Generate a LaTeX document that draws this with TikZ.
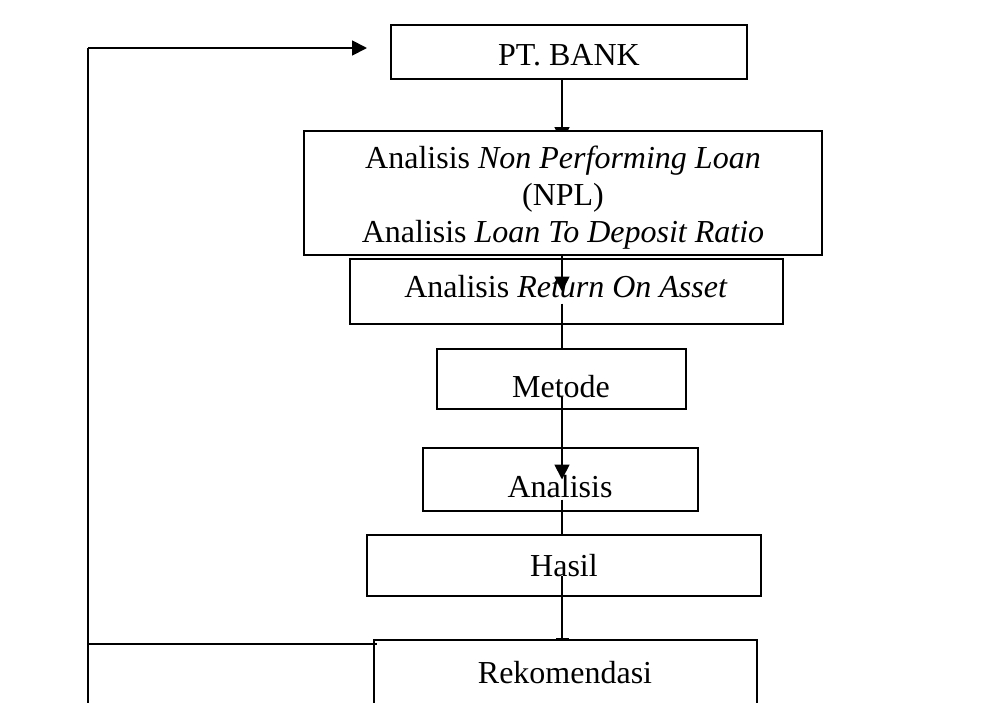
\documentclass[tikz,border=0pt]{standalone}
\usepackage{fontspec}
\setmainfont{Liberation Serif}
\usetikzlibrary{positioning, arrows.meta, backgrounds}
\tikzstyle{stage} = [rectangle, draw=black, line width=2pt, fill=white, inner sep=0pt, outer sep=0pt, align=center, text centered, font=\fontsize{32}{37}\selectfont]
\tikzstyle{arrow} = [line width=1.8pt, -{Triangle[length=15pt, width=15pt]}]
\tikzstyle{link} = [line width=1.8pt]
\tikzstyle{thinlink} = [line width=1.2pt]

\begin{document}
\begin{tikzpicture}[x=1pt, y=1pt]
    \useasboundingbox (0,0) rectangle (982,-702);
    \coordinate (spine) at (562,0);

    % Objek penelitian
    \node (bank) [stage, minimum width=356pt, minimum height=54pt] at (569,-52) {\rule{0pt}{27pt}PT. BANK};

    % Analisis rasio
    \node (npl) [stage, below=52pt of bank, xshift=-6pt, minimum width=518pt, minimum height=124pt] {\rule{0pt}{32pt}Analisis \textit{Non Performing Loan}\\(NPL)\\Analisis \textit{Loan To Deposit Ratio}};
    \node (roa) [stage, below=4pt of npl, xshift=3pt, minimum width=433pt, minimum height=65pt] {\rule[-10pt]{0pt}{10pt}Analisis \textit{Return On Asset}};

    % Tahapan
    \node (metode) [stage, below=25pt of roa, xshift=-5pt, minimum width=249pt, minimum height=60pt] {\rule{0pt}{38pt}Metode};
    \node (analisis) [stage, below=39pt of metode, xshift=-1pt, minimum width=275pt, minimum height=63pt] {\rule{0pt}{36pt}Analisis};
    \node (hasil) [stage, below=24pt of analisis, xshift=4pt, minimum width=394pt, minimum height=61pt] {Hasil};
    \node (rekom) [stage, below=44pt of hasil, xshift=1pt, minimum width=383pt, minimum height=66pt] {Rekomendasi};

    % Alur
    \begin{scope}[on background layer]
        \draw [arrow] (bank.south -| spine) -- ([yshift=-11pt]npl.north -| spine);
    \end{scope}
    \draw [arrow] (npl.south -| spine) -- (roa.center -| spine);
    \draw [link] ([yshift=-12pt]roa.center -| spine) -- (metode.north -| spine);
    \draw [arrow] ([yshift=-18pt]metode.center -| spine) -- (analisis.center -| spine);
    \draw [link] ([yshift=-20pt]analisis.center -| spine) -- (hasil.north -| spine);
    \draw [link, -{Bar[width=13pt]}] ([yshift=-10pt]hasil.center -| spine) -- (rekom.north -| spine);

    % Umpan balik
    \coordinate (looptop) at (88,-48);
    \coordinate (loopend) at (88,-710);
    \coordinate (corner) at (87,-644);
    \draw [thinlink] (looptop) -- (loopend);
    \draw [thinlink] ([xshift=3pt]rekom.north west |- corner) -- (corner);
    \draw [arrow] (looptop) -- ([xshift=-24pt]bank.west |- looptop);
\end{tikzpicture}
\end{document}
